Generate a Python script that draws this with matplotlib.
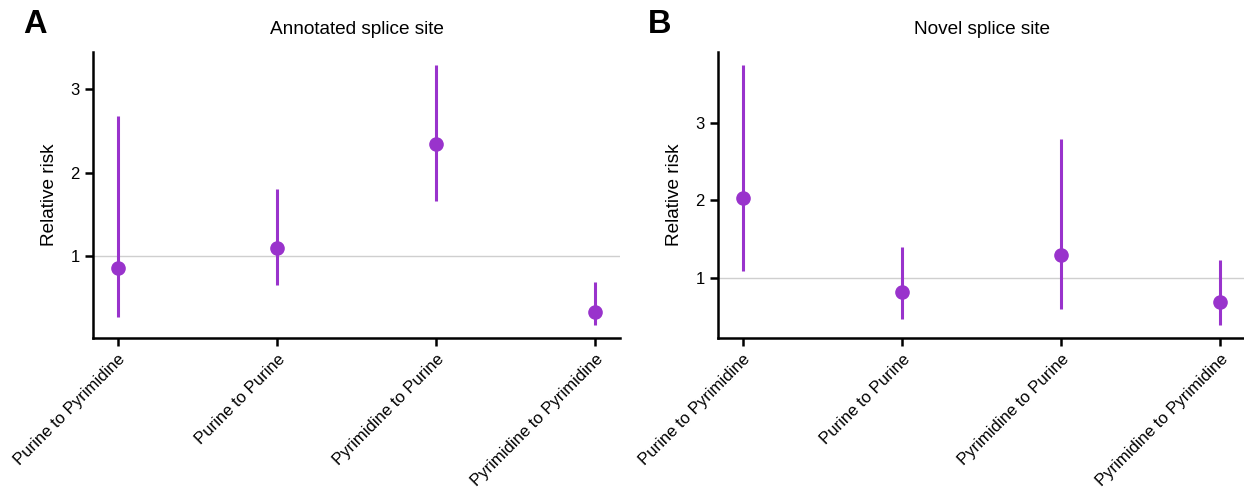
import matplotlib
matplotlib.use("Agg")
import matplotlib.pyplot as plt

# relative risk with 95% interval
categories = ["Purine to Pyrimidine", "Purine to Purine",
              "Pyrimidine to Purine", "Pyrimidine to Pyrimidine"]

annot_rr = [0.86, 1.10, 2.34, 0.34]
annot_lo = [0.28, 0.66, 1.66, 0.18]
annot_hi = [2.68, 1.81, 3.29, 0.69]

novel_rr = [2.03, 0.82, 1.30, 0.70]
novel_lo = [1.10, 0.48, 0.61, 0.40]
novel_hi = [3.74, 1.40, 2.79, 1.24]

plt.rcParams["font.family"] = ["Liberation Sans", "DejaVu Sans"]
purple = "#9933CC"

fig = plt.figure(figsize=(12.44, 4.93), dpi=100)
ax_a = fig.add_axes([0.0748, 0.3144, 0.4236, 0.580])
ax_b = fig.add_axes([0.5772, 0.3144, 0.4236, 0.580])


def draw_panel(ax, rr, lo, hi, title, letter, letter_x):
    xs = range(len(categories))
    ax.axhline(1, color="#cfcfcf", lw=1, zorder=0)
    ax.vlines(xs, lo, hi, color=purple, lw=2.2)
    ax.plot(xs, rr, "o", color=purple, ms=9.5)
    span = max(hi) - min(lo)
    ax.set_ylim(min(lo) - 0.05 * span, max(hi) + 0.05 * span)
    ax.set_xlim(-0.155, 3.155)
    ax.set_yticks([1, 2, 3])
    ax.set_xticks(list(xs))
    ax.set_xticklabels(categories, rotation=45, ha="right", rotation_mode="anchor")
    ax.tick_params(labelsize=12, width=1.8, length=6, color="black")
    ax.set_ylabel("Relative risk", fontsize=13.7, labelpad=9)
    ax.set_title(title, fontsize=13.7, pad=13)
    for side in ["top", "right"]:
        ax.spines[side].set_visible(False)
    for side in ["left", "bottom"]:
        ax.spines[side].set_linewidth(1.8)
    fig.text(letter_x, 0.951, letter, fontsize=23.5, fontweight="bold",
             ha="left", va="center")


draw_panel(ax_a, annot_rr, annot_lo, annot_hi, "Annotated splice site", "A", 0.019)
draw_panel(ax_b, novel_rr, novel_lo, novel_hi, "Novel splice site", "B", 0.521)

fig.savefig("out.png", dpi=100)
